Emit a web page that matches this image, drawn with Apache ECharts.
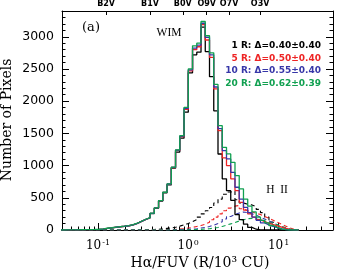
<!DOCTYPE html>
<html><head><meta charset="utf-8">
<script src="https://cdn.jsdelivr.net/npm/echarts@6/dist/echarts.min.js"></script>
<style>html,body{margin:0;padding:0;background:#fff}#c{width:339px;height:271px}</style>
</head><body><div id="c"></div><script>
// Histogram bins: log10 bin edges = (binStartIndex + i) * binWidthDex
const binStartIndex = -30;
const binWidthDex = 0.047;

// WIM (solid) histograms, 56 bins
const wim1R = [0,2,3,3,4,5,6,7,10,15,25,33,42,50,57,65,80,103,133,163,188,255,338,450,578,700,960,1210,1425,1830,
  2440,2720,2760,3150,2770,2380,1850,1180,794,610,460,240,160,90,40,12,3,0,0,0,0,0,0,0,0,0];
const wim5R = [0,2,3,3,4,5,6,7,10,15,26,34,43,51,58,66,81,104,135,165,190,258,342,455,585,712,970,1235,1450,1875,
  2470,2800,2845,3190,2950,2680,2190,1543,1119,1000,794,612,430,310,250,200,160,130,105,85,65,45,25,10,3,0];
const wim10R = [0,2,3,3,4,5,6,7,10,15,26,34,43,51,58,66,81,104,135,166,190,259,343,456,585,714,972,1240,1458,1890,
  2485,2825,2870,3210,2990,2720,2220,1574,1233,1104,896,664,480,350,270,200,150,110,80,55,35,18,8,2,0,0];
const wim20R = [0,2,3,3,4,5,6,8,11,16,27,35,44,52,59,67,82,105,136,167,192,261,344,457,586,716,975,1245,1465,1904,
  2500,2860,2900,3237,3016,2750,2260,1620,1284,1181,1051,845,640,480,370,280,200,150,110,70,40,18,6,0,0,0];

// H II (dashed) histograms, 56 bins
const hii1R = [0,0,0,0,0,0,0,0,0,0,0,0,0,0,0,0,2,3,4,5,6,8,12,18,25,32,42,60,80,100,
  130,160,200,250,300,350,420,480,555,590,600,470,420,400,390,360,320,270,200,125,55,20,6,0,0,0];
const hii5R = [0,0,0,0,0,0,0,0,0,0,0,0,0,0,0,0,0,0,0,0,2,3,4,5,6,8,10,15,20,30,
  40,55,70,90,120,160,200,250,300,340,370,380,330,300,280,260,240,210,180,150,120,90,60,30,10,0];
const hii10R = [0,0,0,0,0,0,0,0,0,0,0,0,0,0,0,0,0,0,0,0,0,0,0,0,0,2,4,6,9,12,
  15,20,30,40,55,75,100,130,170,210,240,265,280,270,250,230,200,170,140,110,80,50,25,10,0,0];
const hii20R = [0,0,0,0,0,0,0,0,0,0,0,0,0,0,0,0,0,0,0,0,0,0,0,0,0,0,0,0,0,3,
  5,7,10,15,20,30,40,55,75,95,115,140,160,175,180,170,160,140,120,100,80,55,35,15,5,0];

const seriesNames = ['1 R', '5 R', '10 R', '20 R'];
const legendTexts = ['1 R: \u0394=0.40\u00b10.40', '5 R: \u0394=0.50\u00b10.40', '10 R: \u0394=0.55\u00b10.40', '20 R: \u0394=0.62\u00b10.39'];
const colors = ['#000000', '#ee2424', '#3636a8', '#10a050'];

const xMin = 0.04, xMax = 40;
const xMajorTicks = [0.1, 1, 10];
const xMinorTicks = [0.05,0.06,0.07,0.08,0.09,0.2,0.3,0.4,0.5,0.6,0.7,0.8,0.9,2,3,4,5,6,7,8,9,20,30];
const topTickValues = [0.123, 0.377, 0.869, 1.60, 2.83, 6.24];
const topTickLabels = ['B2V', 'B1V', 'B0V', 'O9V', 'O7V', 'O3V'];
const yMin = 0, yMax = 3400, yInterval = 500;

function histData(counts) {
  const pts = [];
  for (let i = 0; i < counts.length; i++) {
    pts.push([Math.pow(10, (binStartIndex + i) * binWidthDex), counts[i]]);
  }
  pts.push([Math.pow(10, (binStartIndex + counts.length) * binWidthDex), counts[counts.length - 1]]);
  return pts;
}

const chart = echarts.init(document.getElementById('c'), null, {renderer: 'canvas'});
const serif = 'DejaVu Serif';
const sans = 'DejaVu Sans';

function mkSeries(name, counts, color, dashed, z) {
  return {
    name: name, type: 'line', step: 'end', data: histData(counts),
    xAxisIndex: 0, yAxisIndex: 0, symbol: 'none', silent: true, z: z,
    lineStyle: {color: color, width: dashed ? 1.1 : 1.3, type: dashed ? [4, 3] : 'solid'}
  };
}

const solid = [wim1R, wim5R, wim10R, wim20R];
const dashed = [hii1R, hii5R, hii10R, hii20R];
const series = [];
for (let i = 0; i < 4; i++) series.push(mkSeries(seriesNames[i] + ' HII', dashed[i], colors[i], true, 2 + i));
for (let i = 0; i < 4; i++) series.push(mkSeries(seriesNames[i] + ' WIM', solid[i], colors[i], false, 6 + i));

const axisLine = {show: true, lineStyle: {color: '#000', width: 1}};

const option = {
  animation: false,
  backgroundColor: '#fff',
  grid: {left: 62, right: 6, top: 10, bottom: 41, containLabel: false},
  xAxis: [
    {
      type: 'log', logBase: 10, position: 'bottom', min: xMin, max: xMax,
      axisLine: axisLine,
      axisTick: {show: true, inside: true, length: 7, lineStyle: {color: '#000'}, customValues: xMajorTicks},
      axisLabel: {
        customValues: xMajorTicks, margin: 9, color: '#000',
        formatter: function (v) {
          const e = Math.round(Math.log10(v));
          if (Math.abs(Math.log10(v) - e) > 1e-6) return '';
          return '{b|10}{s|' + (e < 0 ? '-' : '') + Math.abs(e) + '}';
        },
        rich: {
          b: {fontFamily: serif, fontSize: 12, color: '#000'},
          s: {fontFamily: serif, fontSize: 8, color: '#000', verticalAlign: 'top', padding: [0, 0, 6, 1]}
        }
      },
      splitLine: {show: false}, minorTick: {show: false}
    },
    {
      type: 'log', logBase: 10, position: 'bottom', min: xMin, max: xMax,
      axisLine: {show: true, lineStyle: {color: '#000', opacity: 0}},
      axisTick: {show: true, inside: true, length: 3.5, lineStyle: {color: '#000', width: 1}, customValues: xMinorTicks},
      axisLabel: {show: false}, splitLine: {show: false}
    },
    {
      type: 'log', logBase: 10, position: 'top', min: xMin, max: xMax,
      axisLine: axisLine,
      axisTick: {show: true, inside: true, length: 4, lineStyle: {color: '#000'}, customValues: topTickValues},
      axisLabel: {
        customValues: topTickValues, margin: 3, color: '#000',
        fontFamily: sans, fontSize: 8, fontWeight: 'bold',
        formatter: function (v) {
          let best = 0;
          for (let i = 1; i < topTickValues.length; i++)
            if (Math.abs(Math.log(topTickValues[i] / v)) < Math.abs(Math.log(topTickValues[best] / v))) best = i;
          return topTickLabels[best];
        }
      },
      splitLine: {show: false}
    }
  ],
  yAxis: [
    {
      type: 'value', position: 'left', min: yMin, max: yMax, interval: yInterval,
      axisLine: axisLine,
      axisTick: {show: true, inside: true, length: 7, lineStyle: {color: '#000'}},
      minorTick: {show: true, splitNumber: 5, length: 3.5, lineStyle: {color: '#000'}},
      axisLabel: {
        margin: 8, color: '#000', fontFamily: sans, fontSize: 12.5,
        formatter: function (v) { return v % yInterval === 0 ? String(v) : ''; }
      },
      splitLine: {show: false}
    },
    {
      type: 'value', position: 'right', min: yMin, max: yMax, interval: yInterval,
      axisLine: axisLine,
      axisTick: {show: true, inside: true, length: 7, lineStyle: {color: '#000'}},
      minorTick: {show: true, splitNumber: 5, length: 3.5, lineStyle: {color: '#000'}},
      axisLabel: {show: false}, splitLine: {show: false}
    }
  ],
  series: series,
  graphic: [
    {type: 'text', x: 7, y: 120, rotation: Math.PI / 2,
      style: {text: 'Number of Pixels', font: '14px "DejaVu Serif"', fill: '#000', align: 'center', verticalAlign: 'middle'}},
    {type: 'text', x: 200, y: 263,
      style: {text: 'H\u03b1/FUV (R/10\u00b3 CU)', font: '14px "DejaVu Serif"', fill: '#000', align: 'center', verticalAlign: 'middle'}},
    {type: 'text', x: 91, y: 27.5,
      style: {text: '(a)', font: '13px "DejaVu Serif"', fill: '#000', align: 'center', verticalAlign: 'middle'}},
    {type: 'text', x: 169, y: 33,
      style: {text: 'WIM', font: '11.5px "Liberation Serif"', fill: '#000', align: 'center', verticalAlign: 'middle'}},
    {type: 'text', x: 277, y: 190,
      style: {text: 'H  II', font: '11.5px "Liberation Serif"', fill: '#000', align: 'center', verticalAlign: 'middle'}}
  ].concat(legendTexts.map(function (t, i) {
    return {type: 'text', x: 321, y: 46 + i * 12.5,
      style: {text: t, font: 'bold 9px "DejaVu Sans"', fill: colors[i], align: 'right', verticalAlign: 'middle'}};
  }))
};
chart.setOption(option);
</script></body></html>
